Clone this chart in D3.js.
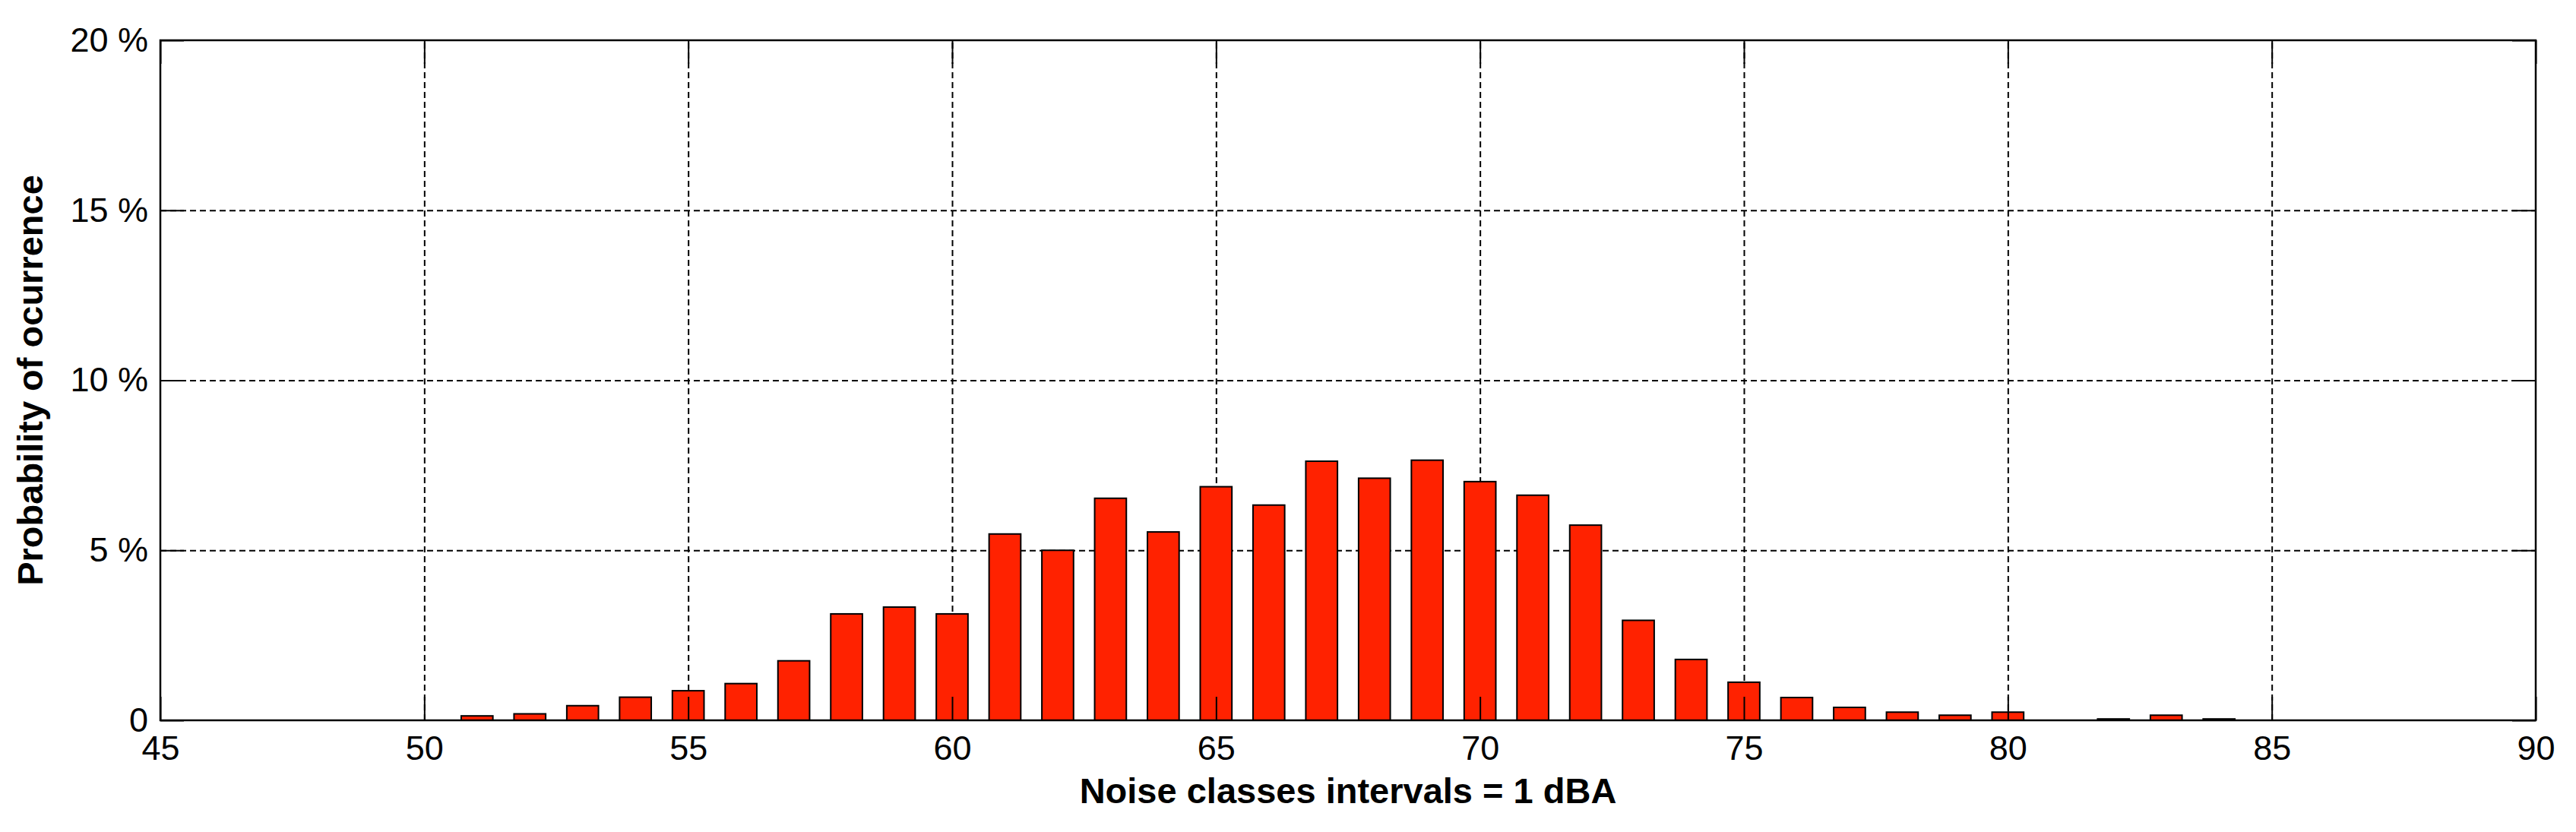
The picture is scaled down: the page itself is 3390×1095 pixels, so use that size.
<!DOCTYPE html>
<html lang="en">
<head>
<meta charset="utf-8">
<title>Noise classes histogram</title>
<style>
body{
  margin: 0;
  background: #fff;
}
.tick text{
  font: 45px "Liberation Sans", Arial, sans-serif;
  fill: #000;
}
.grid line{
  stroke: #000;
  stroke-width: 2;
  stroke-dasharray: 8,5;
}
.grid path, .ticks path{
  display: none;
}
.ticks line{
  stroke: #000;
  stroke-width: 2;
}
.label{
  font: bold 47px "Liberation Sans", Arial, sans-serif;
  fill: #000;
}
</style>
</head>
<body>
<div id="chart"></div>
<script src="https://d3js.org/d3.v7.min.js"></script>
<script>
  // noise class (dBA) and probability (%)
  const classes = [51, 52, 53, 54, 55, 56, 57, 58, 59, 60, 61, 62, 63, 64, 65, 66, 67,
                   68, 69, 70, 71, 72, 73, 74, 75, 76, 77, 78, 79, 80, 81, 82, 83, 84];
  const probability = [0.13, 0.19, 0.43, 0.68, 0.87, 1.08, 1.75, 3.13, 3.33, 3.13, 5.48, 5.0, 6.53, 5.54, 6.87, 6.33, 7.62,
                       7.12, 7.65, 7.02, 6.62, 5.74, 2.94, 1.79, 1.12, 0.67, 0.38, 0.24, 0.15, 0.24, 0, 0.04, 0.15, 0.04];
  const xTicks = [45, 50, 55, 60, 65, 70, 75, 80, 85, 90];
  const yTicks = [0, 5, 10, 15, 20];

  const width = 3390;
  const height = 1095;
  const margin = { top: 53, right: 53, bottom: 147, left: 211 };
  const innerH = height - margin.top - margin.bottom;

  const svg = d3.select("#chart")
    .append("svg")
    .attr("width", width)
    .attr("height", height);

  const x = d3.scaleLinear()
    .domain([45, 90])
    .range([margin.left, width - margin.right]);

  const y = d3.scaleLinear()
    .domain([0, 20])
    .range([height - margin.bottom, margin.top]);

  const innerW = x(90) - x(45);

  // dashed grid
  svg.append("g")
    .attr("class", "grid")
    .attr("transform", `translate(0,${y(0)})`)
    .call(d3.axisBottom(x).tickValues(xTicks.slice(1, -1)).tickSize(-innerH).tickFormat(""));
  svg.append("g")
    .attr("class", "grid")
    .attr("transform", `translate(${x(45)},0)`)
    .call(d3.axisLeft(y).tickValues(yTicks.slice(1, -1)).tickSize(-innerW).tickFormat(""));

  // bars
  const barW = (x(1) - x(0)) * 0.6;
  svg.selectAll("rect.bar")
    .data(classes.map((c, i) => ({ c, p: probability[i] })))
    .enter()
    .append("rect")
    .attr("class", "bar")
    .attr("x", d => x(d.c) - barW / 2)
    .attr("y", d => y(d.p))
    .attr("width", barW)
    .attr("height", d => y(0) - y(d.p))
    .attr("fill", "#ff2200")
    .attr("stroke", "#000")
    .attr("stroke-width", 2)
    .attr("display", d => d.p > 0 ? null : "none");

  // inner tick marks on all four sides, labels on bottom / left
  const tl = 31;
  svg.append("g")
    .attr("class", "ticks")
    .attr("transform", `translate(0,${y(0)})`)
    .call(d3.axisBottom(x).tickValues(xTicks).tickSize(-tl).tickPadding(20));
  svg.append("g")
    .attr("class", "ticks")
    .attr("transform", `translate(0,${y(20)})`)
    .call(d3.axisTop(x).tickValues(xTicks).tickSize(-tl).tickFormat(""));
  svg.append("g")
    .attr("class", "ticks")
    .attr("transform", `translate(${x(45)},0)`)
    .call(d3.axisLeft(y).tickValues(yTicks).tickSize(-tl).tickPadding(16)
      .tickFormat(d => d === 0 ? "0" : d + " %"));
  svg.append("g")
    .attr("class", "ticks")
    .attr("transform", `translate(${x(90)},0)`)
    .call(d3.axisRight(y).tickValues(yTicks).tickSize(-tl).tickFormat(""));

  // frame
  svg.append("rect")
    .attr("x", x(45))
    .attr("y", y(20))
    .attr("width", innerW)
    .attr("height", innerH)
    .attr("fill", "none")
    .attr("stroke", "#000")
    .attr("stroke-width", 2.5);

  // axis labels
  svg.append("text")
    .attr("class", "label")
    .attr("x", (x(45) + x(90)) / 2)
    .attr("y", 1057)
    .attr("text-anchor", "middle")
    .text("Noise classes intervals = 1 dBA");

  svg.append("text")
    .attr("class", "label")
    .attr("transform", `translate(56,${(y(0) + y(20)) / 2}) rotate(-90)`)
    .attr("text-anchor", "middle")
    .text("Probability of ocurrence");
</script>
</body>
</html>
